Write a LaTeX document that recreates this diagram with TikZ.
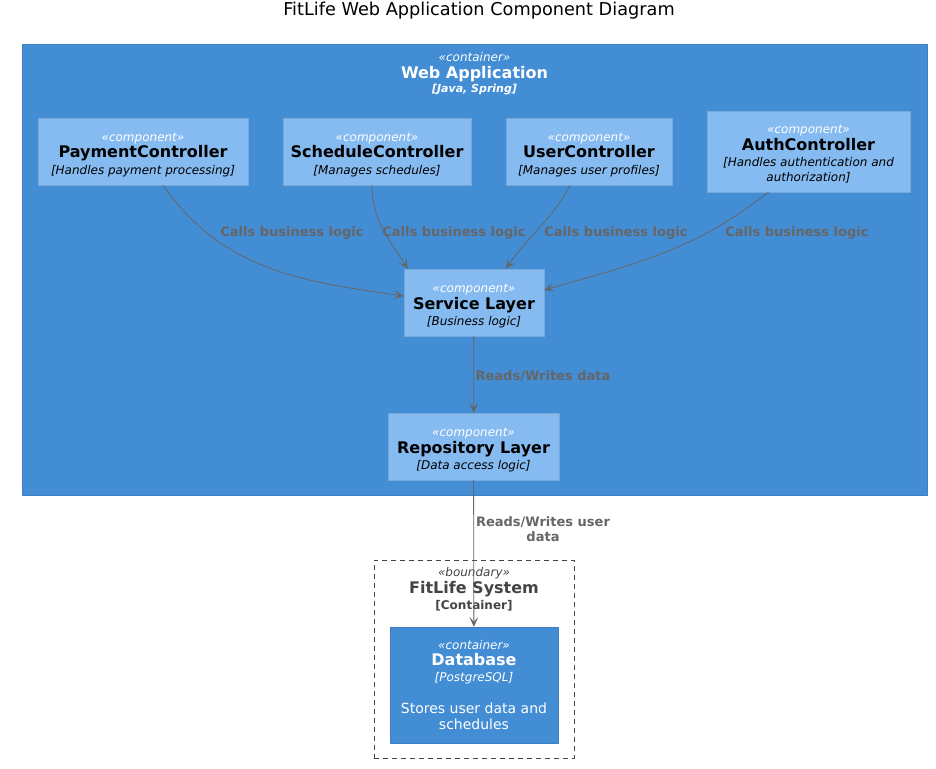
\documentclass[tikz,border=0pt]{standalone}
\usepackage{fontspec}
\setmainfont{DejaVu Sans}
\usetikzlibrary{arrows.meta,positioning}
\definecolor{contblue}{HTML}{438DD5}
\definecolor{contline}{HTML}{3C7FC0}
\definecolor{compblue}{HTML}{85BBF0}
\definecolor{compline}{HTML}{78A8D8}
\definecolor{relgray}{HTML}{666666}
\definecolor{bndgray}{HTML}{444444}
\newcommand{\fsz}[1]{\fontsize{#1}{#1}\selectfont}
\newcommand{\comptext}[2]{{\fsz{12}\itshape\color{white}«component»}\\{\fsz{16}\bfseries #1}\\{\fsz{12}\itshape [#2]}}
\tikzset{
  comp/.style={draw=compline, fill=compblue, inner sep=0pt},
  comptxt/.style={align=center, inner sep=0pt, yshift=-3.5pt, font=\fontsize{12}{16.5}\selectfont},
  contbox/.style={draw=contline, fill=contblue, inner sep=0pt},
  rel/.style={draw=relgray, line width=0.8pt, ->},
  rellabel/.style={text=relgray, font=\fontsize{13}{15}\selectfont\bfseries, align=center, inner sep=0pt}
}
\begin{document}
\begin{tikzpicture}[x=1pt, y=-1pt, >={Stealth[length=10pt,width=9pt,inset=5pt]}, line join=round]
  \useasboundingbox (0,0) rectangle (936,768);
  \node (title) at (479,11) {\fsz{17.7}FitLife Web Application Component Diagram};
  % web application container
  \node (webapp) [contbox, minimum width=905, minimum height=451] at (474.5,269.5) {};
  \node (webtitle) [align=center, text=white, inner sep=0pt, font=\fontsize{12}{16.5}\selectfont] at (474.5,74)
    {{\fsz{12}\itshape «container»}\\{\fsz{16}\bfseries Web Application}\\[-2pt]{\fsz{11}\bfseries\itshape [Java, Spring]}};
  % controllers
  \node (pay) [comp, minimum width=210, minimum height=67,
    label={[comptxt]center:{\comptext{PaymentController}{Handles payment processing}}}] at (143,151.5) {};
  \node (sched) [comp, minimum width=188, minimum height=67,
    label={[comptxt]center:{\comptext{ScheduleController}{Manages schedules}}}] at (377,151.5) {};
  \node (user) [comp, minimum width=166, minimum height=67,
    label={[comptxt]center:{\comptext{UserController}{Manages user profiles}}}] at (589,151.5) {};
  \node (auth) [comp, minimum width=203, minimum height=81,
    label={[comptxt, yshift=1pt]center:{{\fsz{12}\itshape\color{white}«component»}\\{\fsz{16}\bfseries AuthController}\\{\fsz{12}\itshape [Handles authentication and}\\[-2pt]{\fsz{12}\itshape authorization]}}}] at (808.5,151.5) {};
  % layers
  \node (svc) [comp, minimum width=140, minimum height=67,
    label={[comptxt, yshift=-0.5pt]center:{\comptext{Service Layer}{Business logic}}}] at (474,302.5) {};
  \node (repo) [comp, minimum width=171, minimum height=67,
    label={[comptxt, yshift=-0.5pt]center:{\comptext{Repository Layer}{Data access logic}}}] at (473.5,446.5) {};
  % boundary
  \node (bnd) [draw=bndgray, dash pattern=on 5pt off 4pt, minimum width=200, minimum height=198, inner sep=0pt] at (474,659) {};
  \node (bndtitle) [align=center, text=bndgray, inner sep=0pt, font=\fontsize{12}{16.5}\selectfont] at (474,589.5)
    {{\fsz{12}\itshape «boundary»}\\{\fsz{16}\bfseries FitLife System}\\{\fsz{12}\bfseries [Container]}};
  \node (db) [contbox, minimum width=168, minimum height=116, align=center, text=white, font=\fontsize{12}{16}\selectfont] at (474,685)
    {{\fsz{12}\itshape «container»}\\{\fsz{16}\bfseries Database}\\{\fsz{12}\itshape [PostgreSQL]}\\ \\{\fsz{14}Stores user data and}\\{\fsz{14}schedules}};
  % relations
  \draw[rel] ([xshift=20pt]pay.south) to[out=-55,in=172] ([yshift=6.5pt]svc.west);
  \draw[rel] ([xshift=-5pt]sched.south) to[out=-90,in=122] ([xshift=4pt]svc.north west);
  \draw[rel] ([xshift=-19pt]user.south) to[out=-118,in=56] ([xshift=32pt]svc.north);
  \draw[rel] ([xshift=-40pt]auth.south) to[out=-142,in=16] ([yshift=12.5pt]svc.east);
  \draw[rel] (svc) -- (repo);
  \draw[rel] (repo) -- (db);
  \node (l1) [rellabel] at (292,232.5) {Calls business logic};
  \node (l2) [rellabel] at (454,232.5) {Calls business logic};
  \node (l3) [rellabel] at (616,232.5) {Calls business logic};
  \node (l4) [rellabel] at (797,232.5) {Calls business logic};
  \node (l5) [rellabel] at (543,376) {Reads/Writes data};
  \node (l6) [rellabel] at (543,529.5) {Reads/Writes user\\data};
\end{tikzpicture}
\end{document}
